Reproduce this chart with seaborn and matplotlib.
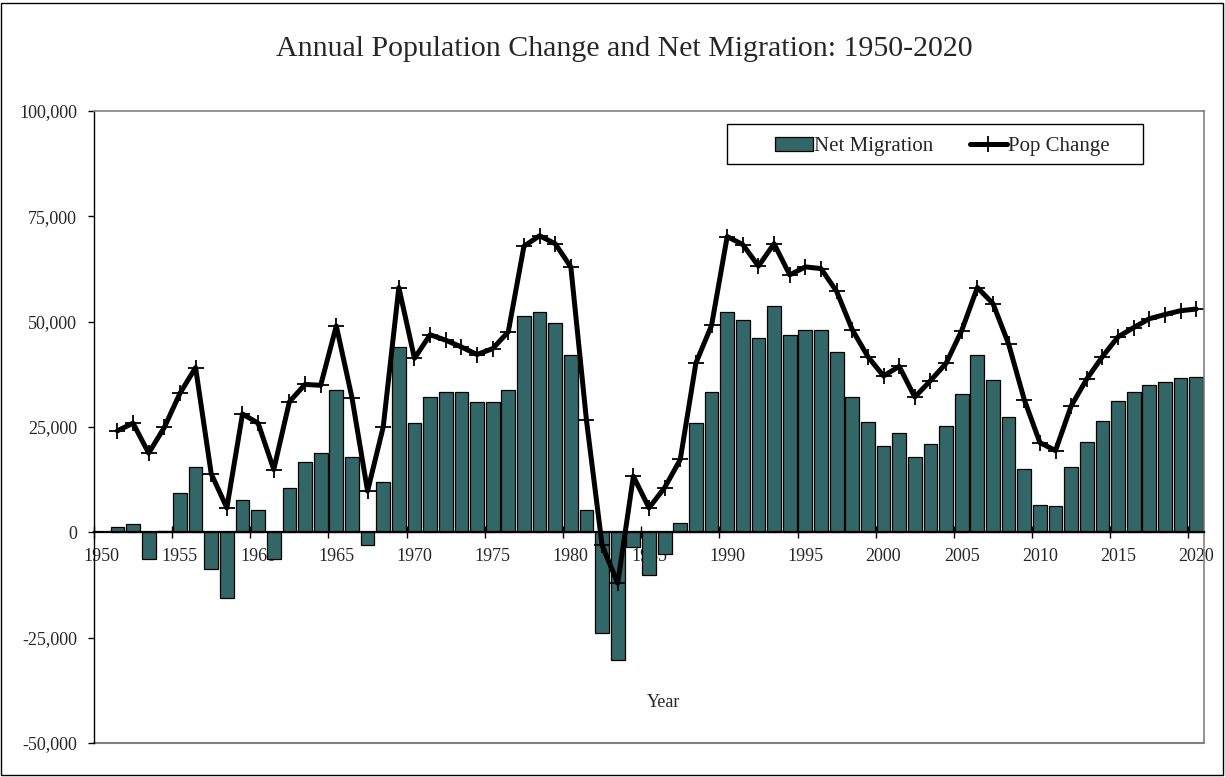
import numpy as np
import pandas as pd
import matplotlib
matplotlib.use("Agg")
import matplotlib.pyplot as plt
from matplotlib.patches import Rectangle
from matplotlib.ticker import FuncFormatter, FixedLocator
import seaborn as sns

# --- Dati ---
years = list(range(1951, 2021))
net_migration = [
    1300, 2000, -6400, 300, 9300, 15600, -8700, -15600, 7600, 5300,
    -6400, 10600, 16600, 18900, 33800, 17900, -3100, 11900, 44100, 25900,
    32200, 33200, 33200, 30900, 30900, 33800, 51400, 52400, 49600, 42200,
    5300, -24000, -30400, -3600, -10100, -5100, 2200, 25900, 33200, 52400,
    50400, 46200, 53700, 46800, 48100, 48100, 42800, 32100, 26200, 20600,
    23600, 17900, 20900, 25300, 32900, 42200, 36100, 27300, 15000, 6600,
    6300, 15600, 21500, 26500, 31200, 33200, 34900, 35800, 36600, 36900,
]
pop_change = [
    24100, 25900, 18800, 24900, 33000, 39100, 13900, 5800, 28100, 25900,
    14900, 31000, 35100, 34900, 49000, 32000, 9800, 25000, 58100, 41300,
    46900, 45600, 44000, 42200, 43600, 47600, 67900, 70400, 68500, 63000,
    26600, -3100, -12100, 13300, 5800, 10600, 17300, 40200, 49100, 70200,
    68300, 63200, 68500, 61100, 63000, 62600, 57200, 48100, 41700, 37100,
    39400, 32100, 36000, 40100, 47900, 58100, 54300, 44700, 31500, 21300,
    19400, 30000, 36400, 41700, 46400, 48600, 50700, 51700, 52600, 53000,
]
label_years = list(range(1950, 2021, 5))
y_ticks = [-50000, -25000, 0, 25000, 50000, 75000, 100000]

df = pd.DataFrame({"year": years, "net": net_migration, "pop": pop_change})

# --- Stile ---
sns.set_style("white")
plt.rcParams["font.family"] = ["Liberation Serif", "DejaVu Serif"]

fig = plt.figure(figsize=(12.25, 7.77), dpi=100)
ax = fig.add_axes([0.0767, 0.0438, 0.9062, 0.8133])

sns.barplot(data=df, x="year", y="net", native_scale=True, color="#336666",
            edgecolor="black", linewidth=0.9, width=0.88, saturation=1,
            label="Net Migration", ax=ax)
sns.lineplot(data=df, x="year", y="pop", color="black", lw=3.6,
             marker="+", ms=12, mew=1.3, mec="black",
             label="Pop Change", ax=ax)

ax.set_xlim(1949.5, 2020.5)
ax.set_ylim(-50000, 100000)

# etichette al centro della categoria, tacche tra le categorie
ax.xaxis.set_major_locator(FixedLocator(label_years))
ax.xaxis.set_minor_locator(FixedLocator([y - 0.5 for y in label_years]))
ax.tick_params(axis="x", which="major", length=0, pad=11, labelsize=13)
ax.tick_params(axis="x", which="minor", length=8, width=1, direction="inout",
               color="black", bottom=True)
ax.set_yticks(y_ticks)
ax.yaxis.set_major_formatter(FuncFormatter(lambda v, p: f"{int(v):,}"))
ax.tick_params(axis="y", length=4, width=1, color="black", left=True,
               labelsize=13, pad=8)

ax.set_xlabel("Year", fontsize=13)
ax.xaxis.set_label_coords(0.513, 0.078)
ax.set_ylabel("")

ax.spines["bottom"].set_position(("data", 0))
ax.spines["bottom"].set_color("black")
ax.spines["bottom"].set_linewidth(1.6)
ax.spines["left"].set_color("black")
ax.spines["left"].set_linewidth(1.0)
for s in ["top", "right"]:
    ax.spines[s].set_color("#808080")
    ax.spines[s].set_linewidth(1.2)
ax.axhline(-50000, color="#808080", lw=1.5, clip_on=False, zorder=0)

# legenda: prima le barre, poi la linea; cornice disegnata a parte (più larga)
handles, labels = ax.get_legend_handles_labels()
order = [labels.index("Net Migration"), labels.index("Pop Change")]
leg = ax.legend([handles[i] for i in order], [labels[i] for i in order],
                loc="center right", bbox_to_anchor=(0.915, 0.944), ncol=2,
                fontsize=15, frameon=False,
                handlelength=1.8, handletextpad=0.05, columnspacing=1.75,
                borderpad=0, borderaxespad=0)
ax.add_patch(Rectangle((0.5703, 0.9161), 0.3747, 0.0633, transform=ax.transAxes,
                       facecolor="white", edgecolor="black", lw=1.0, zorder=4))
leg.set_zorder(5)

fig.text(0.51, 0.937, "Annual Population Change and Net Migration: 1950-2020",
         ha="center", va="center", fontsize=21.5)

fig.patches.append(Rectangle((0.001, 0.002), 0.997, 0.994, transform=fig.transFigure,
                             fill=False, edgecolor="black", lw=1.0))

fig.savefig("out.png", dpi=100)
